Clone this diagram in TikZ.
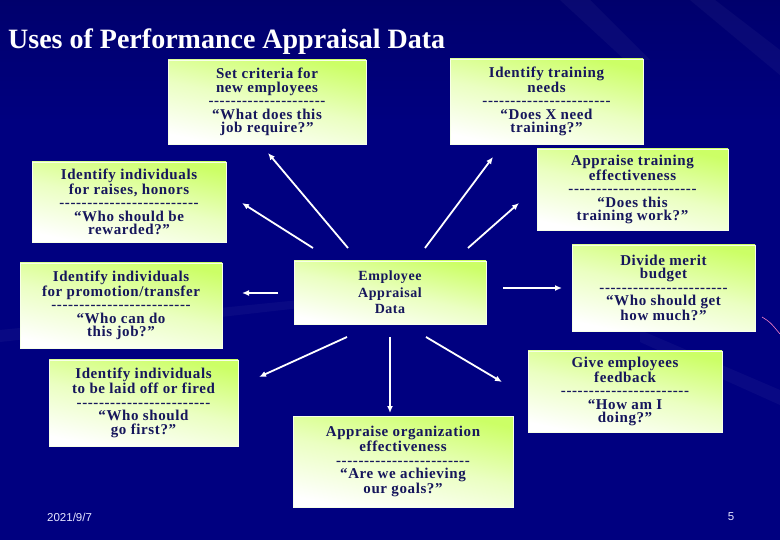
\documentclass[tikz,border=0pt]{standalone}
\usepackage{fontspec}
\setmainfont{Liberation Serif}
\newfontfamily\footfont{Liberation Sans}
\newfontfamily\boxfont[LetterSpace=4]{Liberation Serif}
\usetikzlibrary{arrows.meta}
\definecolor{bg}{RGB}{0,0,128}
\definecolor{navytext}{RGB}{22,22,92}
\definecolor{lime}{RGB}{204,255,102}
\newcommand\dashrow[1]{\foreach\i in {1,...,#1}{-}}
\begin{document}
\begin{tikzpicture}[x=1pt,y=-1pt,
  box/.style={inner sep=0pt, align=center, text=navytext,
    font=\boxfont\fontsize{15}{13.5}\selectfont\bfseries,
    shade, top color=lime, bottom color=white, middle color=lime!40!white,
    shading angle=-12, draw=white!85!lime, line width=0.5pt},
  arr/.style={draw=white, line width=1.8pt, -{Latex[length=7pt,width=6pt]}},
  streak/.style={fill=white, opacity=0.035}]
\useasboundingbox (0,0) rectangle (780,540);
% background
\fill[bg] (0,0) rectangle (780,540);
\shade[top color=bg!75!black, bottom color=bg, opacity=0.6] (0,0) rectangle (780,120);
\fill[streak] (560,0) -- (590,0) -- (650,60) -- (625,60) -- cycle;
\fill[streak] (690,0) -- (715,0) -- (780,50) -- (780,75) -- cycle;
\fill[streak] (640,330) -- (780,390) -- (780,405) -- (640,342) -- cycle;
\fill[streak] (0,330) -- (300,300) -- (300,308) -- (0,342) -- cycle;
\draw[magenta!50!white, line width=0.6pt] (762,317) .. controls (770,322) .. (780,334);
% title
\node[anchor=base west, inner sep=0pt, text=white,
  font=\fontsize{28}{30}\selectfont\bfseries] (title) at (8,49)
  {Uses of Performance Appraisal Data};
% boxes
\node[box, minimum width=198pt, minimum height=84pt] (crit) at (267,102)
  {Set criteria for\\new employees\\\dashrow{21}\\“What does this\\job require?”};
\node[box, minimum width=193pt, minimum height=85pt] (train) at (546.5,101.5)
  {Identify training\\needs\\\dashrow{23}\\“Does X need\\training?”};
\node[box, minimum width=191pt, minimum height=81pt] (eff) at (632.5,189.5)
  {Appraise training\\effectiveness\\\dashrow{23}\\“Does this\\training work?”};
\node[box, minimum width=194pt, minimum height=80pt] (raise) at (129,202)
  {Identify individuals\\for raises, honors\\\dashrow{25}\\“Who should be\\rewarded?”};
\node[box, minimum width=202pt, minimum height=85pt] (promo) at (121,305.5)
  {Identify individuals\\for promotion/transfer\\\dashrow{25}\\“Who can do\\this job?”};
\node[box, minimum width=189pt, minimum height=86pt] (fire) at (143.5,403)
  {Identify individuals\\to be laid off or fired\\\dashrow{24}\\“Who should\\go first?”};
\node[box, minimum width=192pt, minimum height=63pt,
  font=\boxfont\fontsize{14}{16.5}\selectfont\bfseries] (center) at (390,292.5)
  {Employee\\Appraisal\\Data};
\node[box, minimum width=220pt, minimum height=91pt] (org) at (403,461.5)
  {Appraise organization\\effectiveness\\\dashrow{24}\\“Are we achieving\\our goals?”};
\node[box, minimum width=183pt, minimum height=86pt] (merit) at (663.5,288)
  {Divide merit\\budget\\\dashrow{23}\\“Who should get\\how much?”};
\node[box, minimum width=194pt, minimum height=81pt] (fb) at (625,391.5)
  {Give employees\\feedback\\\dashrow{23}\\“How am I\\doing?”};
% arrow end points
\coordinate (s1) at (348,248); \coordinate (e1) at (268,153);
\coordinate (s2) at (313,248); \coordinate (e2) at (242,203);
\coordinate (s3) at (278,293); \coordinate (e3) at (242,293);
\coordinate (s4) at (347,337); \coordinate (e4) at (259,377);
\coordinate (s5) at (390,337); \coordinate (e5) at (390,413);
\coordinate (s6) at (426,337); \coordinate (e6) at (502,382);
\coordinate (s7) at (503,288); \coordinate (e7) at (562,288);
\coordinate (s8) at (425,248); \coordinate (e8) at (493,157);
\coordinate (s9) at (468,248); \coordinate (e9) at (519,203);
\foreach \k in {1,...,9} { \draw[arr] (s\k) -- (e\k); }
% footer
\node[anchor=west, inner sep=0pt, text=white!90!blue,
  font=\footfont\fontsize{11.5}{13}\selectfont] (date) at (47,517) {2021/9/7};
\node[inner sep=0pt, text=white!90!blue,
  font=\footfont\fontsize{11.5}{13}\selectfont] (page) at (731,517) {5};
\end{tikzpicture}
\end{document}
